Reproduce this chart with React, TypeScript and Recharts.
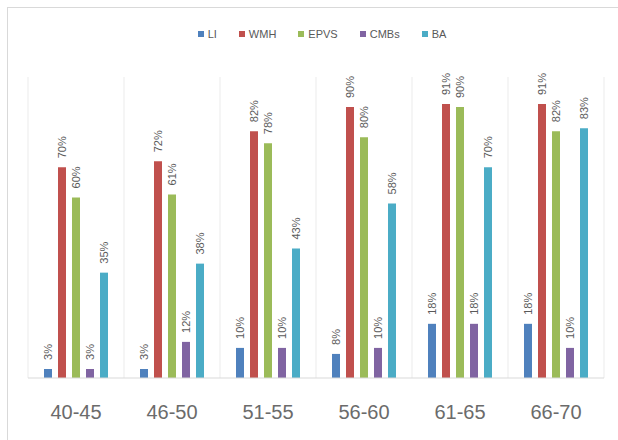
import { Bar, BarChart, CartesianGrid, LabelList, Legend, XAxis, YAxis } from "recharts";

const ageGroups = ["40-45", "46-50", "51-55", "56-60", "61-65", "66-70"];
const li = [3, 3, 10, 8, 18, 18];
const wmh = [70, 72, 82, 90, 91, 91];
const epvs = [60, 61, 78, 80, 90, 82];
const cmbs = [3, 12, 10, 10, 18, 10];
const ba = [35, 38, 43, 58, 70, 83];

const series = [
  { key: "LI", values: li, color: "#4f81bd" },
  { key: "WMH", values: wmh, color: "#c0504d" },
  { key: "EPVS", values: epvs, color: "#9bbb59" },
  { key: "CMBs", values: cmbs, color: "#8064a2" },
  { key: "BA", values: ba, color: "#4bacc6" }
];

const data = ageGroups.map((label, i) => {
  const row: Record<string, string | number> = { label };
  series.forEach((s) => {
    row[s.key] = s.values[i];
  });
  return row;
});

const textColor = "#595959";

function PctLabel(props: any) {
  const { x, y, width, value } = props;
  const cx = Number(x) + Number(width) / 2;
  const top = Number(y) - 9;
  return (
    <text
      x={cx}
      y={top}
      transform={`rotate(-90 ${cx} ${top})`}
      textAnchor="start"
      dominantBaseline="central"
      fill={textColor}
      fontSize={11}
      fontFamily="'Liberation Sans', Arial, sans-serif"
    >
      {value}%
    </text>
  );
}

function ChartLegend() {
  return (
    <div
      style={{
        display: "flex",
        justifyContent: "center",
        gap: 22,
        paddingLeft: 12,
        fontFamily: "'Liberation Sans', Arial, sans-serif",
        fontSize: 11,
        color: textColor
      }}
    >
      {series.map((s) => (
        <div key={s.key} style={{ display: "flex", alignItems: "center" }}>
          <span style={{ width: 6, height: 6, background: s.color, marginRight: 4 }} />
          {s.key}
        </div>
      ))}
    </div>
  );
}

export default function App() {
  return (
    <div style={{ position: "absolute", left: 0, top: 0, width: 618, height: 440, background: "#fff" }}>
      <div
        style={{
          position: "absolute",
          left: 7,
          top: 7,
          right: 0,
          bottom: 0,
          borderTop: "1px solid #d9d9d9",
          borderLeft: "1px solid #d9d9d9"
        }}
      />
      <div style={{ position: "absolute", left: 0, top: 0 }}>
        <BarChart
          width={618}
          height={440}
          data={data}
          margin={{ top: 65, right: 14, left: 28, bottom: 0 }}
          barSize={8}
          barGap={6}
        >
          <CartesianGrid
            horizontal={false}
            stroke="#ebebeb"
            verticalCoordinatesGenerator={({ offset }: any) =>
              ageGroups.map((_, i) => offset.left + (offset.width * i) / ageGroups.length).concat(offset.left + offset.width)
            }
          />
          <XAxis
            dataKey="label"
            height={62}
            axisLine={{ stroke: "#d9d9d9" }}
            tickLine={false}
            tickSize={0}
            tickMargin={27}
            tick={{ fill: "#6b6b6b", fontSize: 20, fontFamily: "'Liberation Sans', Arial, sans-serif" }}
          />
          <YAxis hide domain={[0, 100]} />
          <Legend verticalAlign="top" wrapperStyle={{ top: 28 }} content={() => <ChartLegend />} />
          {series.map((s) => (
            <Bar key={s.key} dataKey={s.key} fill={s.color} isAnimationActive={false}>
              <LabelList dataKey={s.key} content={PctLabel} />
            </Bar>
          ))}
        </BarChart>
      </div>
    </div>
  );
}
